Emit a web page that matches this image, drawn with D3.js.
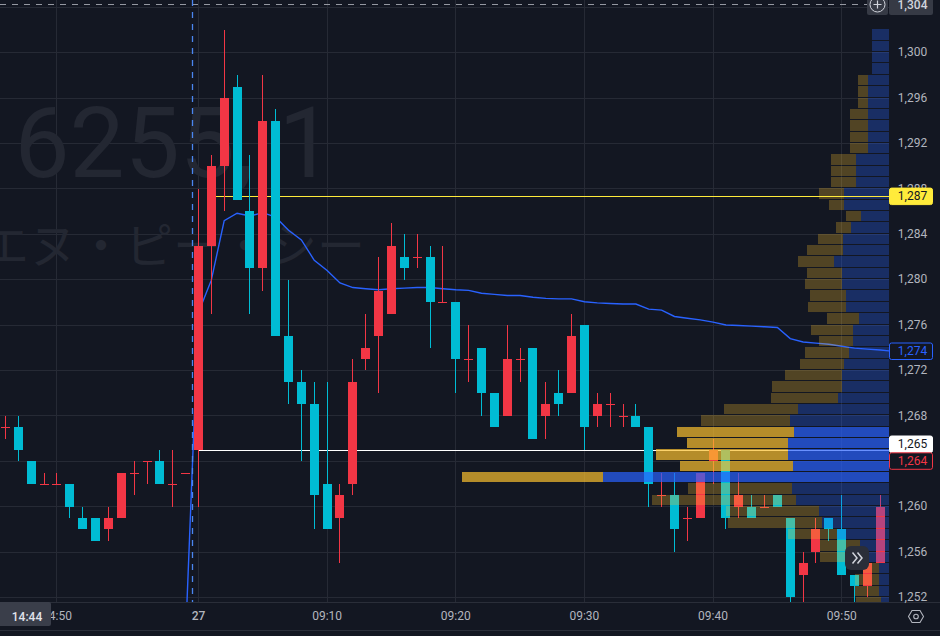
<!DOCTYPE html>
<html><head><meta charset="utf-8">
<script src="https://cdnjs.cloudflare.com/ajax/libs/d3/7.8.5/d3.min.js"></script>
<style>html,body{margin:0;padding:0;background:#131722;overflow:hidden}svg{display:block}text{font-family:Roboto,"Noto Sans",sans-serif}</style>
</head><body><div id="c"></div>
<script>
// minute index relative to the 09:00 open
const candleIndex = d3.range(-15, 54);
const opens  = [1267,1267,1264,1262,1262,1262,1259,1259,1258,1259,1263,1264,1264,1262,1263,
  1265,1283,1290,1297,1286,1281,1294,1275,1271,1269,1262,1259,1262,1273,1275,1277,1282,1282,1282,1278,1278,1273,1274,1270,1268,1273,1274,1268,1270,1270,1276,1268,1269,1268,1268,1267,1261,1261,1259,1259,1264,1265,1260,1260,1260,1261,1259,1254,1256,1259,1258,1254,1253,1255];
const highs  = [1268,1268,1264,1263,1263,1262,1260,1259,1260,1263,1264,1264,1265,1265,1263,
  1288,1291,1302,1298,1291,1298,1295,1280,1272,1271,1271,1262,1273,1277,1282,1285,1284,1284,1283,1283,1278,1276,1274,1270,1276,1274,1274,1271,1272,1277,1276,1270,1270,1269,1269,1267,1263,1263,1260,1263,1266,1265,1263,1261,1261,1261,1259,1256,1259,1259,1261,1254,1255,1261];
const lows   = [1266,1264,1262,1262,1262,1259,1258,1257,1257,1259,1261,1262,1262,1260,1263,
  1260,1277,1286,1287,1277,1279,1275,1269,1264,1258,1258,1255,1261,1272,1270,1277,1280,1281,1274,1278,1270,1271,1268,1267,1268,1271,1266,1266,1268,1270,1265,1267,1267,1267,1267,1260,1260,1256,1257,1259,1262,1258,1259,1259,1260,1260,1251,1251,1255,1257,1254,1251,1252,1255];
const closes = [1267,1265,1262,1262,1262,1260,1258,1257,1259,1263,1263,1264,1262,1262,1263,
  1283,1290,1296,1287,1281,1294,1275,1271,1269,1261,1258,1261,1271,1274,1279,1283,1281,1282,1278,1278,1273,1273,1270,1267,1273,1273,1266,1269,1269,1275,1267,1269,1269,1268,1267,1262,1261,1258,1259,1263,1265,1259,1261,1259,1260,1260,1252,1255,1258,1258,1254,1253,1255,1260];

const vwapIndex = d3.range(-1, 54);
const vwapValues = [1248.5,1277.1,1279.95,1285.2,1285.85,1285.6,1285.9,1285.5,1284.35,1283.5,1281.7,1280.8,1279.7,1279.3,1279.2,1279.1,1279.2,1279.25,1279.3,1279.3,1279.2,1279.1,1279.05,1278.8,1278.7,1278.6,1278.6,1278.45,1278.35,1278.3,1278.3,1278.05,1277.95,1277.9,1277.85,1277.85,1277.4,1277.31,1276.75,1276.6,1276.45,1276.25,1276.0,1275.96,1275.9,1275.84,1275.78,1274.8,1274.5,1274.4,1274.3,1274.13,1273.96,1273.87,1273.8];

// volume profile: price row, buy volume, sell volume
const profilePrices = d3.range(1301, 1250, -1);
const profileBuy  = [17,17,17,17,21,21,21,21,21,21,21,33,33,33,45,45,28,38,46,46,55,47,47,43,43,30,36,36,40,45,47,47,51,91,99,95,101,101,96,286,97,93,70,67,52,29,26,10,10,10,8];
const profileSell = [0,0,0,0,10,10,10,18,18,18,18,25,25,25,25,15,15,15,25,36,36,35,37,36,38,32,42,34,44,44,57,70,67,74,89,117,101,132,113,141,104,144,93,94,49,40,43,16,24,24,25];
const valueArea = [1262,1263,1264,1265,1266];

const priceTicks = d3.range(1304, 1250, -4);
const axisLabels = ["1,304","1,300","1,296","1,292","1,288","1,284","1,280","1,276","1,272","1,268","1,264","1,260","1,256","1,252"];
const timeTickIndex = [-11,0,10,20,30,40,50];
const timeTickLabels = ["14:50","27","09:10","09:20","09:30","09:40","09:50"];
const lastLevels = {high:1287.33, open:1264.93};
const priceLabels = [["1,287",196.6,"#ffeb3b","#ffeb3b","#131722"],["1,274",351.5,"#131722","#2962ff","#2962ff"],["1,265",444.5,"#ffffff","#ffffff","#131722"],["1,264",461.3,"#131722","#f23645","#f23645"]];

const W=940,H=636,plotR=889,plotB=602;
const RED="#f23645",CYAN="#00bcd4",GRID="#262a35",AXC="#b2b5be";
const x=d3.scaleLinear().domain([-15,53]).range([5.5,880.3]);
const y=d3.scaleLinear().domain([1304,1252]).range([7.2,597.4]);
const vol=d3.scaleLinear().domain([0,427]).range([0,427]);
const crisp=v=>Math.floor(v)+.5;

const svg=d3.select("#c").append("svg").attr("width",W).attr("height",H);
svg.append("rect").attr("width",W).attr("height",H).attr("fill","#131722");
svg.append("defs").append("clipPath").attr("id","plot").append("rect").attr("width",plotR).attr("height",plotB);
const plot=svg.append("g").attr("clip-path","url(#plot)");

// grid
plot.append("g").selectAll("line").data(priceTicks).join("line")
 .attr("x1",0).attr("x2",plotR).attr("y1",d=>crisp(y(d))).attr("y2",d=>crisp(y(d))).attr("stroke",GRID);
plot.append("g").selectAll("line").data(timeTickIndex).join("line")
 .attr("y1",0).attr("y2",plotB).attr("x1",d=>crisp(x(d))).attr("x2",d=>crisp(x(d))).attr("stroke",GRID);

// watermark
plot.append("text").text("6255, 1").attr("x",174).attr("y",177).attr("text-anchor","middle")
 .attr("font-size",98).attr("fill","#232732").style("font-family","Roboto,sans-serif");
plot.append("text").text("エヌ・ピー・シー").attr("x",173).attr("y",263).attr("text-anchor","middle")
 .attr("font-size",48).attr("fill","#232732").style("font-family","'Noto Sans CJK JP',sans-serif");

// level lines under candles
plot.append("line").attr("x1",x(0)).attr("x2",plotR).attr("y1",crisp(y(lastLevels.open))).attr("y2",crisp(y(lastLevels.open))).attr("stroke","#fff").attr("stroke-width",1.2);
plot.append("line").attr("x1",x(1)).attr("x2",plotR).attr("y1",crisp(y(lastLevels.high))).attr("y2",crisp(y(lastLevels.high))).attr("stroke","#ffeb3b").attr("stroke-width",1.2);

// VWAP
const line=d3.line().x(d=>x(d[0])).y(d=>y(d[1]));
plot.append("path").attr("fill","none").attr("stroke","#2962ff").attr("stroke-width",1.4)
 .attr("d",line(vwapIndex.map((d,i)=>[d,vwapValues[i]]).concat([[53.7,1273.72]])));

// candles
const candles=candleIndex.map((d,i)=>({i:d,o:opens[i],h:highs[i],l:lows[i],c:closes[i]}));
const col=d=>d.c<d.o?CYAN:RED;
const cg=plot.append("g");
cg.selectAll("rect.w").data(candles).join("rect").attr("class","w")
 .attr("x",d=>Math.floor(x(d.i))).attr("width",1)
 .attr("y",d=>Math.round(y(d.h))).attr("height",d=>Math.round(y(d.l))-Math.round(y(d.h)))
 .attr("fill",col);
cg.selectAll("rect.b").data(candles).join("rect").attr("class","b")
 .attr("x",d=>Math.floor(x(d.i))-4).attr("width",9)
 .attr("y",d=>Math.round(y(Math.max(d.o,d.c))))
 .attr("height",d=>Math.max(1,Math.round(y(Math.min(d.o,d.c)))-Math.round(y(Math.max(d.o,d.c)))))
 .attr("fill",col);

// volume profile
const rows=profilePrices.map((p,i)=>({p,b:profileBuy[i],s:profileSell[i],va:valueArea.includes(p)}));
const pg=plot.append("g");
const rowY=d=>Math.floor(y(d.p+1)), rowH=d=>Math.floor(y(d.p))-Math.floor(y(d.p+1))-1;
pg.selectAll("rect.buy").data(rows).join("rect").attr("class","buy")
 .attr("x",d=>plotR-vol(d.b)).attr("width",d=>vol(d.b)).attr("y",rowY).attr("height",rowH)
 .attr("fill","#2962ff").attr("opacity",d=>d.va?.7:.3);
pg.selectAll("rect.sell").data(rows).join("rect").attr("class","sell")
 .attr("x",d=>plotR-vol(d.b)-vol(d.s)).attr("width",d=>vol(d.s)).attr("y",rowY).attr("height",rowH)
 .attr("fill","#fbc02d").attr("opacity",d=>d.va?.7:.27);

// high level drawn over the profile
plot.append("line").attr("x1",815).attr("x2",plotR).attr("y1",crisp(y(lastLevels.high))).attr("y2",crisp(y(lastLevels.high))).attr("stroke","#ffeb3b").attr("stroke-width",1.2);

// crosshair
plot.append("line").attr("x1",0).attr("x2",867).attr("y1",4.5).attr("y2",4.5).attr("stroke","#9598a1").attr("stroke-dasharray","6 6");
plot.append("line").attr("x1",192.5).attr("x2",192.5).attr("y1",0).attr("y2",plotB).attr("stroke","#4a86f0").attr("stroke-width",1.3).attr("stroke-dasharray","6 6");

// chart axes
svg.append("line").attr("x1",0).attr("x2",W).attr("y1",602.5).attr("y2",602.5).attr("stroke","#2a2e39");
svg.append("line").attr("x1",0).attr("x2",W).attr("y1",630.5).attr("y2",630.5).attr("stroke","#2a2e39");

svg.append("g").selectAll("text").data(priceTicks.slice(1)).join("text")
 .attr("x",912.5).attr("y",d=>y(d)-.5).attr("dy","0.35em").attr("text-anchor","middle")
 .attr("font-size",12).attr("fill",AXC).text((d,i)=>axisLabels[i+1]);
svg.append("g").selectAll("text").data(timeTickIndex).join("text")
 .attr("x",d=>x(d)).attr("y",620).attr("text-anchor","middle")
 .attr("font-size",12).attr("fill",AXC).attr("font-weight",(d,i)=>timeTickLabels[i]==="27"?500:400).text((d,i)=>timeTickLabels[i]);

// price labels
const lab=svg.append("g").selectAll("g").data(priceLabels).join("g");
lab.append("rect").attr("x",889.5).attr("width",43).attr("y",d=>d[1]-8.5).attr("height",16.5).attr("rx",2)
 .attr("fill",d=>d[2]).attr("stroke",d=>d[3]);
lab.append("text").attr("x",912.5).attr("y",d=>d[1]-.5).attr("dy","0.35em").attr("text-anchor","middle").attr("font-size",12).attr("fill",d=>d[4]).text(d=>d[0]);

// crosshair price label and plus button
svg.append("rect").attr("x",889).attr("y",-4).attr("width",44).attr("height",19).attr("rx",2).attr("fill","#363a45");
svg.append("text").attr("x",912.5).attr("y",8.5).attr("text-anchor","middle").attr("font-size",12).attr("font-weight",500).attr("fill","#d1d4dc").text(axisLabels[0]);
svg.append("rect").attr("x",867).attr("y",-4).attr("width",21).attr("height",19).attr("rx",2).attr("fill","#363a45");
svg.append("circle").attr("cx",877.5).attr("cy",4.5).attr("r",7.5).attr("fill","none").attr("stroke","#d1d4dc");
svg.append("path").attr("d","M873.5 4.5H881.5M877.5 0.5V8.5").attr("stroke","#d1d4dc").attr("stroke-width",1.2);

// time box
svg.append("rect").attr("x",-3).attr("y",602).attr("width",54).attr("height",24).attr("rx",2).attr("fill","#3a3e4a");
svg.append("text").attr("x",27).attr("y",620.5).attr("text-anchor","middle").attr("font-size",12).attr("font-weight",500).attr("fill","#e0e3eb").text("14:44");

// scroll button
svg.append("rect").attr("x",845).attr("y",546).attr("width",24).attr("height",24).attr("rx",6).attr("fill","#2a2e39");
svg.append("path").attr("d","M852.5 552.5L857 558L852.5 563.5M857.5 552.5L862 558L857.5 563.5").attr("fill","none").attr("stroke","#d1d4dc").attr("stroke-width",1.5);

// settings hexagon
svg.append("path").attr("d","M908.5 616.5L912 610.5H920L923.5 616.5L920 622.5H912Z").attr("fill","none").attr("stroke",AXC).attr("stroke-width",1.1);
svg.append("circle").attr("cx",916).attr("cy",616.5).attr("r",2.3).attr("fill","none").attr("stroke",AXC).attr("stroke-width",1.1);
</script></body></html>
